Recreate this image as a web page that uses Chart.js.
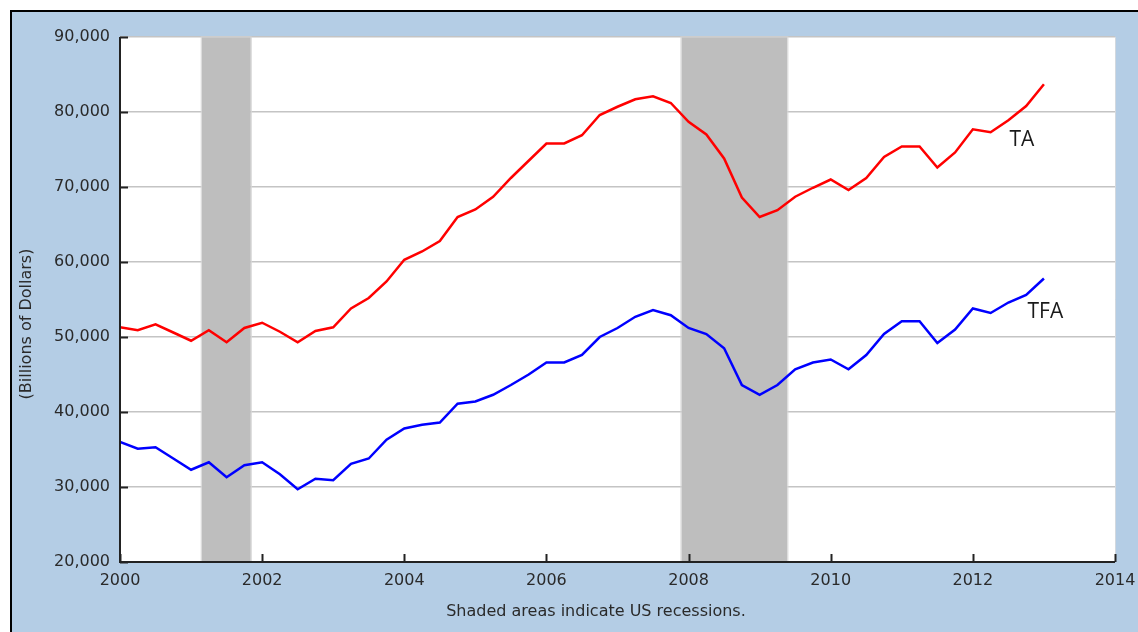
<!DOCTYPE html>
<html>
<head>
<meta charset="utf-8">
<script src="https://cdn.jsdelivr.net/npm/chart.js@4.4.0/dist/chart.umd.min.js"></script>
<style>
  html, body { margin: 0; padding: 0; background: #fff; }
  #wrap { position: relative; width: 1138px; height: 632px; overflow: hidden; background: #fff; }
  #frame { position: absolute; left: 10px; top: 10px; width: 1128px; height: 622px; box-sizing: border-box;
           border-top: 2px solid #000; border-left: 2px solid #000; background: #b4cde5; }
  #chart { position: absolute; left: 0; top: 0; }
</style>
</head>
<body>
<div id="wrap">
  <div id="frame"></div>
  <canvas id="chart" width="1138" height="632"></canvas>
</div>
<script>
// quarterly, 2000Q1 .. 2013Q1, billions of dollars
var firstYear = 2000;
var taValues = [
  51300, 50900, 51700, 50600,
  49500, 50900, 49300, 51200,
  51900, 50700, 49300, 50800,
  51300, 53800, 55200, 57400,
  60300, 61400, 62800, 66000,
  67000, 68700, 71200, 73500,
  75800, 75800, 76900, 79600,
  80700, 81700, 82100, 81200,
  78700, 77000, 73800, 68600,
  66000, 66900, 68700, 69900,
  71000, 69600, 71200, 74000,
  75400, 75400, 72600, 74600,
  77700, 77300, 78900, 80800,
  83700
];
var tfaValues = [
  36000, 35100, 35300, 33800,
  32300, 33300, 31300, 32900,
  33300, 31700, 29700, 31100,
  30900, 33100, 33800, 36300,
  37800, 38300, 38600, 41100,
  41400, 42300, 43600, 45000,
  46600, 46600, 47600, 50000,
  51200, 52700, 53600, 52900,
  51200, 50400, 48500, 43600,
  42300, 43600, 45700, 46600,
  47000, 45700, 47600, 50400,
  52100, 52100, 49200, 51000,
  53800, 53200, 54600, 55600,
  57800
];
// recession periods (decimal years)
var recessions = [[2001.15, 2001.84], [2007.9, 2009.39]];
var yTicks = [20000, 30000, 40000, 50000, 60000, 70000, 80000, 90000];
var xTicks = [2000, 2002, 2004, 2006, 2008, 2010, 2012, 2014];

function toPoints(vals) {
  return vals.map(function (v, i) { return { x: firstYear + i / 4, y: v }; });
}

var FONT = "'DejaVu Sans', Verdana, sans-serif";
var seriesLabels = [
  { text: 'TA', x: 2012.69, y: 76300 },
  { text: 'TFA', x: 2013.02, y: 53300 }
];

var decorations = {
  id: 'decorations',
  beforeDraw: function (chart) {
    var a = chart.chartArea, ctx = chart.ctx;
    ctx.save();
    ctx.fillStyle = '#fff';
    ctx.fillRect(a.left, a.top, a.right - a.left, a.bottom - a.top);
    ctx.strokeStyle = '#d2d8de';
    ctx.lineWidth = 1;
    ctx.beginPath();
    ctx.moveTo(a.right + 0.5, a.top);
    ctx.lineTo(a.right + 0.5, a.bottom);
    ctx.stroke();
    ctx.restore();
  },
  beforeDatasetsDraw: function (chart) {
    var a = chart.chartArea, ctx = chart.ctx, xs = chart.scales.x;
    ctx.save();
    recessions.forEach(function (r) {
      var x0 = xs.getPixelForValue(r[0]), x1 = xs.getPixelForValue(r[1]);
      ctx.fillStyle = '#bebebe';
      ctx.fillRect(x0, a.top, x1 - x0, a.bottom - a.top);
      ctx.strokeStyle = '#d6d6d6';
      ctx.lineWidth = 1;
      ctx.strokeRect(x0 - 0.5, a.top, x1 - x0 + 1, a.bottom - a.top);
    });
    ctx.restore();
  },
  afterDatasetsDraw: function (chart) {
    var a = chart.chartArea, ctx = chart.ctx;
    var xs = chart.scales.x, ys = chart.scales.y;
    ctx.save();
    ctx.strokeStyle = '#222';
    ctx.lineWidth = 2;
    ctx.beginPath();
    ctx.moveTo(a.left, a.top);
    ctx.lineTo(a.left, a.bottom);
    ctx.lineTo(a.right, a.bottom);
    ctx.stroke();
    // inward tick marks
    yTicks.forEach(function (v) {
      var y = Math.round(ys.getPixelForValue(v)) + 0.5;
      ctx.beginPath(); ctx.moveTo(a.left, y); ctx.lineTo(a.left + 8, y); ctx.stroke();
    });
    xTicks.forEach(function (v) {
      var x = Math.round(xs.getPixelForValue(v)) + 0.5;
      ctx.beginPath(); ctx.moveTo(x, a.bottom); ctx.lineTo(x, a.bottom - 8); ctx.stroke();
    });
    // series names
    ctx.fillStyle = '#1a1a1a';
    ctx.font = "21px 'Open Sans', 'Noto Sans', sans-serif";
    ctx.textAlign = 'center';
    ctx.textBaseline = 'middle';
    seriesLabels.forEach(function (l) {
      ctx.fillText(l.text, xs.getPixelForValue(l.x), ys.getPixelForValue(l.y));
    });
    // y title and caption
    ctx.fillStyle = '#2a2a2a';
    ctx.font = '16px ' + FONT;
    ctx.save();
    ctx.translate(27, 324);
    ctx.rotate(-Math.PI / 2);
    ctx.fillText('(Billions of Dollars)', 0, 0);
    ctx.restore();
    ctx.fillText('Shaded areas indicate US recessions.', 596, 612);
    ctx.restore();
  }
};

new Chart(document.getElementById('chart'), {
  type: 'line',
  data: {
    datasets: [
      { label: 'TA', data: toPoints(taValues), borderColor: '#ff0000', borderWidth: 2.5,
        pointRadius: 0, tension: 0, fill: false },
      { label: 'TFA', data: toPoints(tfaValues), borderColor: '#0000ff', borderWidth: 2.5,
        pointRadius: 0, tension: 0, fill: false }
    ]
  },
  options: {
    responsive: false,
    animation: false,
    layout: { padding: { top: 37, right: 23, left: 0, bottom: 0 } },
    plugins: { legend: { display: false }, tooltip: { enabled: false } },
    scales: {
      x: {
        type: 'linear', min: 2000, max: 2014,
        afterBuildTicks: function (s) { s.ticks = xTicks.map(function (v) { return { value: v }; }); },
        afterFit: function (s) { s.height = 70; s.paddingRight = 0; },
        ticks: { color: '#2a2a2a', font: { family: FONT, size: 16 }, padding: 9, maxRotation: 0,
                 callback: function (v) { return String(v); } },
        grid: { display: false, drawTicks: false },
        border: { display: false }
      },
      y: {
        min: 20000, max: 90000,
        afterBuildTicks: function (s) { s.ticks = yTicks.map(function (v) { return { value: v }; }); },
        afterFit: function (s) { s.width = 120; },
        ticks: { color: '#2a2a2a', font: { family: FONT, size: 16 }, padding: 10,
                 callback: function (v) { return v.toLocaleString('en-US'); } },
        grid: { color: '#c4c4c4', lineWidth: 1.5, drawTicks: false },
        border: { display: false }
      }
    }
  },
  plugins: [decorations]
});
</script>
</body>
</html>
